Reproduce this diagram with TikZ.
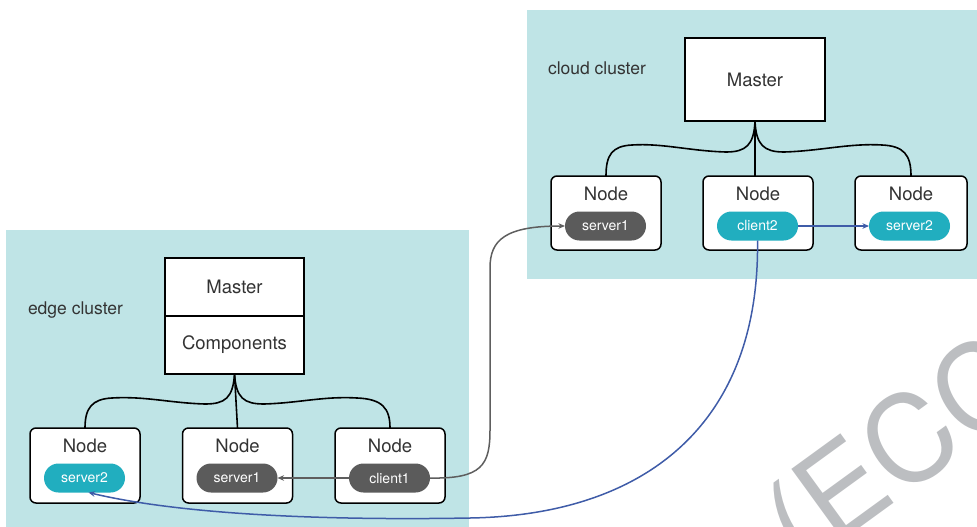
\documentclass[tikz,border=0pt]{standalone}
\usepackage{fontspec}
\setmainfont{TeX Gyre Heros}
\usetikzlibrary{arrows.meta}
\definecolor{clusterbg}{HTML}{BFE4E6}
\definecolor{pillcyan}{HTML}{21AEBF}
\definecolor{pillgray}{HTML}{5B5B5B}
\definecolor{linkblue}{HTML}{3F5CA8}
\definecolor{linkgray}{HTML}{5E5E5E}
\definecolor{txt}{HTML}{333333}
\definecolor{wmark}{HTML}{BCBEC1}
\begin{document}
\begin{tikzpicture}[x=1pt,y=-1pt,
  every node/.style={inner sep=0pt,outer sep=0pt},
  masterbox/.style={draw=black,line width=1.6pt,fill=white,text=txt,font=\fontsize{18.5}{20}\selectfont},
  nodebox/.style={draw=black,line width=1.5pt,fill=white,rounded corners=6pt,minimum width=110pt,minimum height=75pt},
  nodelabel/.style={text=txt,font=\fontsize{18.5}{20}\selectfont},
  pill/.style={rounded corners=14.5pt,minimum width=81pt,minimum height=29pt,text=white,font=\fontsize{14}{16}\selectfont},
  cyanpill/.style={pill,fill=pillcyan},
  graypill/.style={pill,fill=pillgray},
  treelink/.style={draw=black,line width=1.6pt},
  graylink/.style={draw=linkgray,line width=1.5pt,-{Stealth[length=6.5pt,width=5.5pt]}},
  bluelink/.style={draw=linkblue,line width=1.5pt,-{Stealth[length=6.5pt,width=5.5pt]}},
  clusterlabel/.style={text=txt,font=\fontsize{17.5}{20}\selectfont,anchor=west},
  wmletter/.style={text=wmark,font=\fontsize{120}{120}\selectfont,rotate=36}]
\useasboundingbox (0,0) rectangle (977,527);
\begin{scope}
\clip (0,0) rectangle (977,527);

% cluster backgrounds
\fill[clusterbg] (6,230) rectangle (469,527);
\fill[clusterbg] (527,10) rectangle (977,279);

% watermark
\node[wmletter] (wm) at (902,458) {(ECC};

% edge cluster
\node[clusterlabel] (elabel) at (28,310) {edge cluster};
\node[masterbox,minimum width=139pt,minimum height=58pt] (emaster) at (234.5,287) {Master};
\node[masterbox,minimum width=139pt,minimum height=58pt] (ecomp) at (234.5,345) {Components};

\node[nodebox] (en1) at (85,465.5) {};
\node[nodebox] (en2) at (237.5,465.5) {};
\node[nodebox] (en3) at (390,465.5) {};
\node[nodelabel] at (85,446) {Node};
\node[nodelabel] at (237.5,446) {Node};
\node[nodelabel] at (390,446) {Node};
\node[cyanpill] (eserver2) at (84.5,478) {server2};
\node[graypill] (eserver1) at (237,478) {server1};
\node[graypill] (eclient1) at (389.5,478) {client1};

\draw[treelink] (ecomp.south) -- (en2.north);
\draw[treelink] (ecomp.south) .. controls (233,398) and (225,404) .. (205,404)
  .. controls (170,403) and (145,396) .. (112,398)
  .. controls (92,399) and (85,408) .. (en1.north);
\draw[treelink] (ecomp.south) .. controls (236,398) and (244,404) .. (264,404)
  .. controls (299,403) and (324,396) .. (357,398)
  .. controls (382,399) and (390,408) .. (en3.north);

% cloud cluster
\node[clusterlabel] (clabel) at (548,68) {cloud cluster};
\node[masterbox,minimum width=140pt,minimum height=83pt] (cmaster) at (755,79.5) {Master};

\node[nodebox,minimum height=74pt] (cn1) at (606,213) {};
\node[nodebox,minimum height=74pt] (cn2) at (758,213) {};
\node[nodebox,minimum height=74pt,minimum width=112pt] (cn3) at (911,213) {};
\node[nodelabel] at (606,194) {Node};
\node[nodelabel] at (758,194) {Node};
\node[nodelabel] at (911,194) {Node};
\node[graypill] (cserver1) at (605.5,226) {server1};
\node[cyanpill] (cclient2) at (757.5,226) {client2};
\node[cyanpill] (cserver2) at (909.5,226) {server2};

\draw[treelink] (cmaster.south) -- (cmaster.south |- cn2.north);
\draw[treelink] (cmaster.south) .. controls (754,145) and (746,152) .. (726,152)
  .. controls (690,151) and (662,143) .. (632,145)
  .. controls (612,146) and (606,155) .. (cn1.north);
\draw[treelink] (cmaster.south) .. controls (756,145) and (764,152) .. (784,152)
  .. controls (820,151) and (850,143) .. (882,145)
  .. controls (904,146) and (911,155) .. (cn3.north);

% traffic between the services
\draw[graylink] (eclient1.west) -- (eserver1.east);
\draw[graylink] (eclient1.east) .. controls (482,479) and (490,465) .. (490,430)
  -- (490,268) .. controls (490,240) and (505,226) .. (cserver1.west);
\draw[bluelink] (cclient2.east) -- (cserver2.west);
\draw[bluelink] (cclient2.south) .. controls (760,420) and (650,515) .. (470,518)
  .. controls (300,521) and (170,512) .. ([xshift=4pt]eserver2.south);
\end{scope}
\end{tikzpicture}
\end{document}
